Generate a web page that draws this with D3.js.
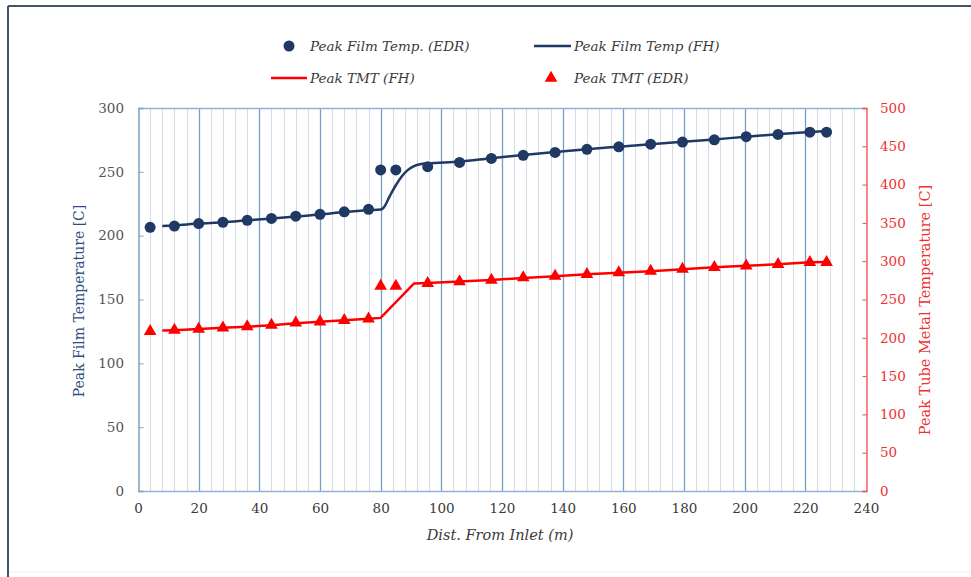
<!DOCTYPE html>
<html><head><meta charset="utf-8">
<script src="https://cdn.jsdelivr.net/npm/d3@7"></script>
<style>
html,body{margin:0;padding:0;background:#fff;}
svg{display:block;}
</style></head>
<body>
<svg id="chart" width="971" height="577"></svg>
<script>
// ---- data ----
const edrDist = [4,12,20,28,36,44,52,60,68,76,80,85,95.5,106,116.5,127,137.5,148,158.5,169,179.5,190,200.5,211,221.5,227];
const filmEDR = [206.5,207.5,209.5,210.5,212,213.5,215.3,216.7,218.7,220.6,251.5,251.5,254,257.4,260.5,262.9,265.2,267.6,269.6,271.7,273.3,275.1,277.5,279.3,281.1,281.1];
const tmtEDR  = [208.5,210,211.5,213,214.5,216.7,219.5,221,222.8,224.8,267.6,267.6,271,273.3,275.5,278.5,280.7,282.9,285,287.2,289.8,292,294.1,296,298.6,298.6];

const filmFHDist = [8,12,20,28,36,44,52,60,68,76,80,81,83,85,87,89,91,93,95.5,106,116.5,127,137.5,148,158.5,169,179.5,190,200.5,211,221.5,227];
const filmFH     = [207.5,208,209.5,210.5,212,213.5,215,216.5,218.5,220,220.5,222,231,239.5,246.5,251.5,254.5,256,256.6,258,260.7,263.2,265.5,267.7,269.7,271.7,273.5,275.4,277.5,279.4,281.2,282];

const tmtFHDist = [8,12,20,28,36,44,52,60,68,76,80,91,95.5,106,116.5,127,137.5,148,158.5,169,179.5,190,200.5,211,221.5,227];
const tmtFH     = [209.5,210,211.5,213,214.5,216.5,219,221,223,225,226,271,271.5,273.5,275.5,278,280.5,283,285,287,289.5,292,294,296,298.5,299];

const xTicks = [0,20,40,60,80,100,120,140,160,180,200,220,240];
const yLeftTicks = [0,50,100,150,200,250,300];
const yRightTicks = [0,50,100,150,200,250,300,350,400,450,500];

const legendLabels = ["Peak Film Temp. (EDR)","Peak Film Temp (FH)","Peak TMT (FH)","Peak TMT (EDR)"];

// ---- layout ----
const L=138, R=866, T=108, B=491;
const navy="#1f3864", red="#ff0000";
const serif = "'DejaVu Serif', serif";

const svg = d3.select("#chart");
const x = d3.scaleLinear().domain([0,240]).range([L,R]);
const yL = d3.scaleLinear().domain([0,300]).range([B,T]);
const yR = d3.scaleLinear().domain([0,500]).range([B,T]);

// outer frame
svg.append("line").attr("x1",8).attr("x2",8).attr("y1",6).attr("y2",577).attr("stroke","#44546a").attr("stroke-width",2);
svg.append("line").attr("x1",8).attr("x2",971).attr("y1",6).attr("y2",6).attr("stroke","#44546a").attr("stroke-width",2);
svg.append("line").attr("x1",9).attr("x2",971).attr("y1",572).attr("y2",572).attr("stroke","#eeeeee").attr("stroke-width",1);

// minor grid every 4 m
const minor = d3.range(4,240,4).filter(v=>v%20!==0);
svg.append("g").selectAll("line").data(minor).join("line")
  .attr("x1",d=>Math.round(x(d))+0.5).attr("x2",d=>Math.round(x(d))+0.5)
  .attr("y1",T).attr("y2",B).attr("stroke","#d6dde6").attr("stroke-width",1);
// major grid
svg.append("g").selectAll("line").data(xTicks.filter(v=>v>0&&v<240)).join("line")
  .attr("x1",d=>Math.round(x(d))+0.5).attr("x2",d=>Math.round(x(d))+0.5)
  .attr("y1",T).attr("y2",B).attr("stroke","#6fa0c9").attr("stroke-width",1.3);

// frame lines
svg.append("line").attr("x1",L).attr("x2",R).attr("y1",T+0.5).attr("y2",T+0.5).attr("stroke","#8fb4d6").attr("stroke-width",1.3);
svg.append("line").attr("x1",L).attr("x2",R).attr("y1",B+0.5).attr("y2",B+0.5).attr("stroke","#8fb4d6").attr("stroke-width",1.3);

// axes
const axL = svg.append("g").attr("transform",`translate(${L+0.5},0)`)
  .call(d3.axisRight(yL).tickValues(yLeftTicks).tickSize(5).tickFormat(""));
axL.select(".domain").attr("stroke","#7ea3c4").attr("stroke-width",1.5);
axL.selectAll(".tick line").attr("stroke","#7ea3c4");
svg.append("g").selectAll("text").data(yLeftTicks).join("text")
  .attr("x",124).attr("y",d=>yL(d)).attr("dy","0.35em").attr("text-anchor","end")
  .attr("font-family",serif).attr("font-size",13.5).attr("fill","#555555").text(d=>d);

const axR = svg.append("g").attr("transform",`translate(${R+0.5},0)`)
  .call(d3.axisLeft(yR).tickValues(yRightTicks).tickSize(4).tickFormat(""));
axR.select(".domain").attr("stroke","#f04a4a").attr("stroke-width",1.3);
axR.selectAll(".tick line").attr("stroke","#f04a4a");
svg.append("g").selectAll("text").data(yRightTicks).join("text")
  .attr("x",880).attr("y",d=>yR(d)).attr("dy","0.35em").attr("text-anchor","start")
  .attr("font-family",serif).attr("font-size",13.5).attr("fill","#f03030").text(d=>d);

const axB = svg.append("g").attr("transform",`translate(0,${B})`)
  .call(d3.axisBottom(x).tickValues(xTicks).tickSize(0).tickPadding(12));
axB.select(".domain").remove();
axB.selectAll("text").attr("font-family",serif).attr("font-size",13.5).attr("fill","#3a3a3a");

// axis titles
svg.append("text").attr("x",500).attr("y",540).attr("text-anchor","middle")
  .attr("font-family",serif).attr("font-style","italic").attr("font-size",14.5).attr("fill","#3a3a3a")
  .text("Dist. From Inlet (m)");
svg.append("text").attr("transform","translate(84,301) rotate(-90)").attr("text-anchor","middle")
  .attr("font-family",serif).attr("font-size",14).attr("fill","#2f4d80")
  .text("Peak Film Temperature [C]");
svg.append("text").attr("transform","translate(930,310) rotate(-90)").attr("text-anchor","middle")
  .attr("font-family",serif).attr("font-size",14.5).attr("fill","#f03030")
  .text("Peak Tube Metal Temperature [C]");

// lines
const lineL = d3.line().x(d=>x(d[0])).y(d=>yL(d[1])).curve(d3.curveMonotoneX);
const lineR = d3.line().x(d=>x(d[0])).y(d=>yR(d[1])).curve(d3.curveLinear);
svg.append("path").datum(filmFHDist.map((d,i)=>[d,filmFH[i]]))
  .attr("d",lineL).attr("fill","none").attr("stroke",navy).attr("stroke-width",2.5);
svg.append("path").datum(tmtFHDist.map((d,i)=>[d,tmtFH[i]]))
  .attr("d",lineR).attr("fill","none").attr("stroke",red).attr("stroke-width",2.5);

// markers
svg.append("g").selectAll("circle").data(edrDist).join("circle")
  .attr("cx",d=>x(d)).attr("cy",(d,i)=>yL(filmEDR[i])).attr("r",5.5).attr("fill",navy);
const tri = d3.symbol().type(d3.symbolTriangle).size(70);
svg.append("g").selectAll("path").data(edrDist).join("path")
  .attr("transform",(d,i)=>`translate(${x(d)},${yR(tmtEDR[i])})`).attr("d",tri).attr("fill",red);

// legend
const lg = svg.append("g").attr("font-family",serif).attr("font-style","italic").attr("font-size",13.5).attr("fill","#3a3a3a");
lg.append("circle").attr("cx",289).attr("cy",46).attr("r",5.5).attr("fill",navy);
lg.append("text").attr("x",310).attr("y",46).attr("dy","0.35em").text(legendLabels[0]);
lg.append("line").attr("x1",534).attr("x2",571).attr("y1",46).attr("y2",46).attr("stroke",navy).attr("stroke-width",2.5);
lg.append("text").attr("x",574).attr("y",46).attr("dy","0.35em").text(legendLabels[1]);
lg.append("line").attr("x1",271).attr("x2",307).attr("y1",78).attr("y2",78).attr("stroke",red).attr("stroke-width",2.5);
lg.append("text").attr("x",310).attr("y",78).attr("dy","0.35em").text(legendLabels[2]);
lg.append("path").attr("transform","translate(551,78)").attr("d",tri).attr("fill",red);
lg.append("text").attr("x",574).attr("y",78).attr("dy","0.35em").text(legendLabels[3]);
</script>
</body></html>
